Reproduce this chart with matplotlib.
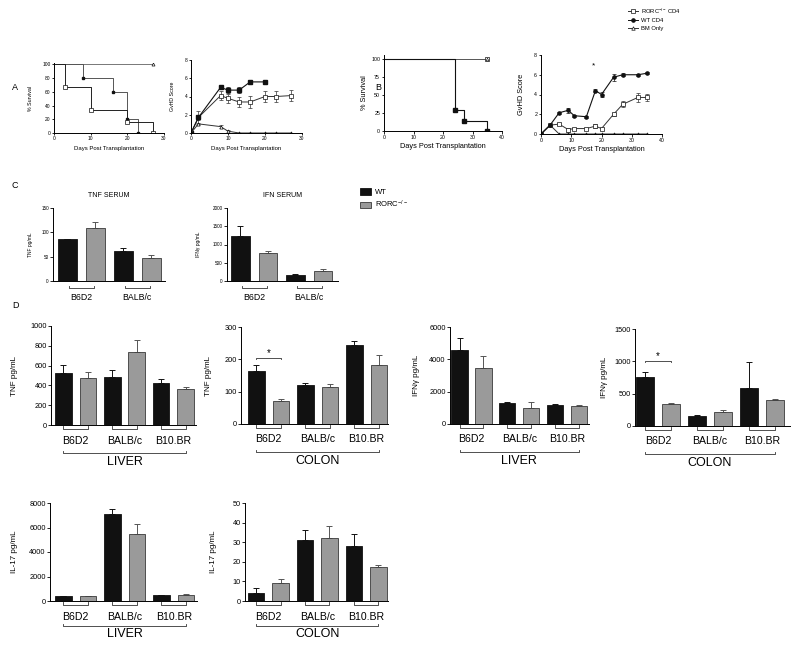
import numpy as np
import matplotlib.pyplot as plt
from matplotlib.transforms import blended_transform_factory
from matplotlib.patches import Patch
from matplotlib.lines import Line2D

plt.rcParams['font.family'] = ['Liberation Sans', 'DejaVu Sans']
plt.rcParams['mathtext.fontset'] = 'custom'
plt.rcParams['mathtext.rm'] = 'Liberation Sans'
plt.rcParams['mathtext.it'] = 'Liberation Sans'

W, H = 800, 649
fig = plt.figure(figsize=(8, 6.49), dpi=100)

# ---------------- data ----------------
# panel A survival
a_wt_days = [0, 8, 16, 20, 23]
a_wt_surv = [100, 80, 60, 20, 0]
a_ko_days = [0, 3, 10, 20, 27]
a_ko_surv = [100, 66.7, 33.3, 16.7, 0]
a_bm_days = [0, 27]
a_bm_surv = [100, 100]

# panel A GvHD score
a_ko_x = [0, 2, 8, 10, 13, 16, 20, 23, 27]
a_ko_y = [0, 1.7, 4.1, 3.8, 3.4, 3.4, 4.0, 4.0, 4.1]
a_ko_err = [0, 0.7, 0.5, 0.5, 0.6, 0.7, 0.6, 0.6, 0.6]
a_wt_x = [0, 2, 8, 10, 13, 16, 20]
a_wt_y = [0, 1.7, 5.0, 4.7, 4.7, 5.6, 5.6]
a_wt_err = [0, 0.3, 0.2, 0.3, 0.3, 0.1, 0.1]
a_bm_x = [0, 2, 8, 10, 13, 16, 20, 23, 27]
a_bm_y = [0, 1.0, 0.7, 0.2, 0, 0, 0, 0, 0]
a_bm_err = [0, 0.1, 0.2, 0.15, 0, 0, 0, 0, 0]

# panel B survival
b_wt_days = [0, 24, 27, 35]
b_wt_surv = [100, 28.6, 14.3, 0]
b_ko_days = [0, 35]
b_ko_surv = [100, 100]
b_bm_days = [0, 35]
b_bm_surv = [100, 100]

# panel B GvHD score
b_x = [0, 3, 6, 9, 11, 15, 18, 20, 24, 27, 32, 35]
b_wt_y = [0, 0.9, 2.15, 2.4, 1.85, 1.75, 4.4, 4.0, 5.75, 6.0, 6.0, 6.15]
b_wt_err = [0, 0.1, 0.1, 0.25, 0.1, 0.1, 0.15, 0.3, 0.35, 0.15, 0.1, 0.1]
b_ko_y = [0, 0.9, 1.0, 0.45, 0.55, 0.55, 0.8, 0.55, 2.0, 3.0, 3.7, 3.7]
b_ko_err = [0, 0.1, 0.1, 0.2, 0.1, 0.1, 0.2, 0.1, 0.15, 0.3, 0.5, 0.35]
b_bm_y = [0, 0.9, 0, 0, 0, 0, 0, 0, 0, 0, 0, 0]

# panel C serum
c_groups = ['B6D2', 'BALB/c']
c_tnf_wt = [86, 61]
c_tnf_wt_err = [1, 6]
c_tnf_ko = [108, 47]
c_tnf_ko_err = [14, 7]
c_ifn_wt = [1240, 170]
c_ifn_wt_err = [270, 20]
c_ifn_ko = [760, 285]
c_ifn_ko_err = [70, 45]

# panel D tissues
d_groups = ['B6D2', 'BALB/c', 'B10.BR']
tnf_liver_wt = [530, 480, 420]
tnf_liver_wt_err = [80, 80, 40]
tnf_liver_ko = [470, 740, 365]
tnf_liver_ko_err = [70, 120, 20]
tnf_colon_wt = [163, 120, 243]
tnf_colon_wt_err = [18, 8, 15]
tnf_colon_ko = [70, 115, 181]
tnf_colon_ko_err = [7, 10, 32]
ifn_liver_wt = [4550, 1320, 1180]
ifn_liver_wt_err = [750, 70, 40]
ifn_liver_ko = [3480, 1000, 1120]
ifn_liver_ko_err = [720, 330, 40]
ifn_colon_wt = [755, 160, 595]
ifn_colon_wt_err = [85, 5, 400]
ifn_colon_ko = [335, 210, 400]
ifn_colon_ko_err = [25, 30, 20]
il17_liver_wt = [380, 7100, 500]
il17_liver_wt_err = [30, 450, 20]
il17_liver_ko = [380, 5430, 520]
il17_liver_ko_err = [30, 870, 20]
il17_colon_wt = [4.3, 31.3, 28]
il17_colon_wt_err = [2.5, 4.7, 6]
il17_colon_ko = [9.2, 32.3, 17.5]
il17_colon_ko_err = [2.2, 6.2, 0.8]

BLACK = '#111111'
GREY = '#9a9a9a'


def add_ax(l, t, r, b):
    return fig.add_axes([l / W, 1 - b / H, (r - l) / W, (b - t) / H])


def style(ax, fs, tl=2):
    for s in ['top', 'right']:
        ax.spines[s].set_visible(False)
    for s in ['left', 'bottom']:
        ax.spines[s].set_linewidth(0.7)
    ax.tick_params(direction='out', length=tl, width=0.6, labelsize=fs, pad=1)


def ylab(ax, text, px, l, r, fs):
    ax.set_ylabel(text, fontsize=fs)
    ax.yaxis.set_label_coords((px - l) / (r - l), 0.5)


def bracket(ax, x0, x1, ypx, t=2.5, lw=0.6):
    tr = blended_transform_factory(ax.transData, fig.transFigure)
    y = 1 - ypx / H
    ax.plot([x0, x0, x1, x1], [y + t / H, y, y, y + t / H], transform=tr,
            color='#333333', lw=lw, clip_on=False)


def label_at(ax, x, ypx, text, fs):
    tr = blended_transform_factory(ax.transData, fig.transFigure)
    ax.text(x, 1 - ypx / H, text, transform=tr, ha='center', va='center', fontsize=fs)


def bars(box, wt, wt_err, ko, ko_err, groups, ylim, yticks, xlim, fs, width=0.68):
    l, t, r, b = box
    ax = add_ax(l, t, r, b)
    n = len(wt)
    xs_wt = np.arange(n) * 2
    xs_ko = xs_wt + 1
    ax.bar(xs_wt, wt, width=width, color=BLACK, edgecolor=BLACK, lw=0.6, zorder=2)
    ax.bar(xs_ko, ko, width=width, color=GREY, edgecolor='#3a3a3a', lw=0.6, zorder=2)
    ax.errorbar(xs_wt, wt, yerr=[np.zeros(n), wt_err], fmt='none', ecolor=BLACK,
                elinewidth=0.7, capsize=2.5, capthick=0.7, zorder=1)
    ax.errorbar(xs_ko, ko, yerr=[np.zeros(n), ko_err], fmt='none', ecolor='#555555',
                elinewidth=0.7, capsize=2.5, capthick=0.7, zorder=1)
    ax.set_ylim(*ylim)
    ax.set_yticks(yticks)
    ax.set_xlim(*xlim)
    ax.set_xticks([])
    style(ax, fs)
    return ax


# ---------------- panel A ----------------
fig.text(12 / W, 1 - 87 / H, 'A', fontsize=6.5, va='center')

ax = add_ax(54, 63, 164, 133)
ax.step(a_bm_days, a_bm_surv, where='post', color='#777777', lw=0.7)
ax.step(a_wt_days, a_wt_surv, where='post', color='#555555', lw=0.7)
ax.step(a_ko_days, a_ko_surv, where='post', color='#222222', lw=0.7)
ax.plot(a_wt_days[1:], a_wt_surv[1:], 's', color=BLACK, ms=2)
ax.plot(a_ko_days[1:], a_ko_surv[1:], 's', mfc='white', mec=BLACK, mew=0.5, ms=2.2)
ax.plot(a_bm_days[1:], a_bm_surv[1:], '^', mfc='white', mec=BLACK, mew=0.5, ms=2.2)
ax.set_xlim(0, 30)
ax.set_ylim(0, 102)
ax.set_xticks([0, 10, 20, 30])
ax.set_yticks([0, 20, 40, 60, 80, 100])
style(ax, 3.5, 1.5)
ax.set_xlabel('Days Post Transplantation', fontsize=4.3, labelpad=3)
ylab(ax, '% Survival', 33, 54, 164, 3.8)

ax = add_ax(191, 60, 302, 133)
ax.errorbar(a_ko_x, a_ko_y, yerr=a_ko_err, color='#333333', lw=0.7, marker='s', ms=2.3,
            mfc='white', mec=BLACK, mew=0.5, elinewidth=0.5, capsize=1.5, capthick=0.5)
ax.errorbar(a_wt_x, a_wt_y, yerr=a_wt_err, color=BLACK, lw=0.8, marker='s', ms=2.3,
            mfc=BLACK, mec=BLACK, elinewidth=0.5, capsize=1.5, capthick=0.5)
ax.errorbar(a_bm_x, a_bm_y, yerr=a_bm_err, color='#333333', lw=0.7, marker='^', ms=2.3,
            mfc='white', mec=BLACK, mew=0.5, elinewidth=0.5, capsize=1.5, capthick=0.5)
ax.set_xlim(0, 30)
ax.set_ylim(0, 8)
ax.set_xticks([0, 10, 20, 30])
ax.set_yticks([0, 2, 4, 6, 8])
style(ax, 3.5, 1.5)
ax.set_xlabel('Days Post Transplantation', fontsize=4.3, labelpad=3)
ylab(ax, 'GvHD Score', 175, 191, 302, 3.8)

# ---------------- panel B ----------------
fig.text(375 / W, 1 - 87 / H, 'B', fontsize=6.5, va='center')

ax = add_ax(384, 55, 502, 131)
ax.step(b_bm_days, b_bm_surv, where='post', color='#555555', lw=0.7)
ax.step(b_wt_days, b_wt_surv, where='post', color=BLACK, lw=0.8)
ax.plot(b_wt_days[1:], b_wt_surv[1:], 's', color=BLACK, ms=2.3)
ax.plot(b_ko_days[1:], b_ko_surv[1:], 's', mfc='white', mec=BLACK, mew=0.5, ms=2.6)
ax.plot(b_bm_days[1:], b_bm_surv[1:], '^', mfc='none', mec=BLACK, mew=0.4, ms=2.0)
ax.set_xlim(0, 40)
ax.set_ylim(0, 105)
ax.set_xticks([0, 10, 20, 30, 40])
ax.set_yticks([0, 25, 50, 75, 100])
style(ax, 3.8, 1.8)
ax.set_xlabel('Days Post Transplantation', fontsize=5.3, labelpad=2)
ylab(ax, '% Survival', 368, 384, 502, 5.3)

ax = add_ax(541, 55, 662, 134)
ax.errorbar(b_x, b_ko_y, yerr=b_ko_err, color='#333333', lw=0.7, marker='s', ms=2.6,
            mfc='white', mec=BLACK, mew=0.5, elinewidth=0.5, capsize=1.5, capthick=0.5)
ax.errorbar(b_x, b_wt_y, yerr=b_wt_err, color=BLACK, lw=0.8, marker='o', ms=2.3,
            mfc=BLACK, mec=BLACK, elinewidth=0.5, capsize=1.5, capthick=0.5)
ax.plot(b_x, b_bm_y, color='#333333', lw=0.7, marker='^', ms=2.3,
        mfc='white', mec=BLACK, mew=0.5)
ax.text(17.5, 6.9, '*', fontsize=6, ha='center', va='center')
ax.set_xlim(0, 40)
ax.set_ylim(0, 8)
ax.set_xticks([0, 10, 20, 30, 40])
ax.set_yticks([0, 2, 4, 6, 8])
style(ax, 3.8, 1.8)
ax.set_xlabel('Days Post Transplantation', fontsize=5.3, labelpad=2)
ylab(ax, 'GvHD Score', 525, 541, 662, 5.3)

top_handles = [
    Line2D([], [], color='#333333', lw=0.7, marker='s', ms=2.5, mfc='white', mec=BLACK, mew=0.5),
    Line2D([], [], color=BLACK, lw=0.7, marker='o', ms=2.3, mfc=BLACK, mec=BLACK),
    Line2D([], [], color='#333333', lw=0.7, marker='^', ms=2.5, mfc='white', mec=BLACK, mew=0.5),
]
fig.legend(top_handles, ['RORC$^{-/-}$ CD4', 'WT CD4', 'BM Only'],
           loc='upper left', bbox_to_anchor=(626 / W, 1 - 4 / H), frameon=False,
           fontsize=4.2, handlelength=1.6, labelspacing=0.45, handletextpad=0.6,
           borderaxespad=0)

# ---------------- panel C ----------------
fig.text(12 / W, 1 - 186 / H, 'C', fontsize=6.5, va='center')

box = (53, 208, 165, 281)
ax = bars(box, c_tnf_wt, c_tnf_wt_err, c_tnf_ko, c_tnf_ko_err, c_groups,
          (0, 150), [0, 50, 100, 150], (-0.52, 3.5), 3.3)
ax.set_title('TNF SERUM', fontsize=5, pad=8)
ylab(ax, 'TNF pg/mL', 33, 53, 165, 3.5)
for i, g in enumerate(c_groups):
    bracket(ax, 2 * i + 0.05, 2 * i + 0.95, 288, 2)
    label_at(ax, 2 * i + 0.5, 298, g, 6.3)

box = (227, 208, 338, 281)
ax = bars(box, c_ifn_wt, c_ifn_wt_err, c_ifn_ko, c_ifn_ko_err, c_groups,
          (0, 2000), [0, 500, 1000, 1500, 2000], (-0.49, 3.55), 3.3)
ax.set_title('IFN SERUM', fontsize=5, pad=8)
ylab(ax, 'IFN\u03b3 pg/mL', 201, 227, 338, 3.5)
for i, g in enumerate(c_groups):
    bracket(ax, 2 * i + 0.05, 2 * i + 0.95, 288, 2)
    label_at(ax, 2 * i + 0.5, 298, g, 6.3)

fig.legend([Patch(facecolor=BLACK, edgecolor=BLACK, lw=0.6),
            Patch(facecolor=GREY, edgecolor='#3a3a3a', lw=0.6)],
           ['WT', 'RORC$^{-/-}$'], loc='upper left',
           bbox_to_anchor=(357 / W, 1 - 185 / H), frameon=False, fontsize=5.5,
           handlelength=1.4, handleheight=1.0, labelspacing=0.35, handletextpad=0.5,
           borderaxespad=0)

# ---------------- panel D ----------------
fig.text(12 / W, 1 - 305 / H, 'D', fontsize=6.5, va='center')

d_panels = [
    ((51, 326, 196, 425), tnf_liver_wt, tnf_liver_wt_err, tnf_liver_ko, tnf_liver_ko_err,
     (0, 1000), [0, 200, 400, 600, 800, 1000], (-0.51, 5.43), 'TNF pg/mL', 18, 'LIVER', None),
    ((241, 327, 388, 424), tnf_colon_wt, tnf_colon_wt_err, tnf_colon_ko, tnf_colon_ko_err,
     (0, 300), [0, 100, 200, 300], (-0.63, 5.37), 'TNF pg/mL', 212, 'COLON', 204),
    ((450, 327, 589, 424), ifn_liver_wt, ifn_liver_wt_err, ifn_liver_ko, ifn_liver_ko_err,
     (0, 6000), [0, 2000, 4000, 6000], (-0.4, 5.42), 'IFN\u03b3 pg/mL', 420, 'LIVER', None),
    ((635, 329, 790, 426), ifn_colon_wt, ifn_colon_wt_err, ifn_colon_ko, ifn_colon_ko_err,
     (0, 1500), [0, 500, 1000, 1500], (-0.38, 5.58), 'IFN\u03b3 pg/mL', 608, 'COLON', 1005),
    ((50, 503, 197, 601), il17_liver_wt, il17_liver_wt_err, il17_liver_ko, il17_liver_ko_err,
     (0, 8000), [0, 2000, 4000, 6000, 8000], (-0.55, 5.45), 'IL-17 pg/mL', 18, 'LIVER', None),
    ((245, 503, 388, 601), il17_colon_wt, il17_colon_wt_err, il17_colon_ko, il17_colon_ko_err,
     (0, 50), [0, 10, 20, 30, 40, 50], (-0.45, 5.39), 'IL-17 pg/mL', 217, 'COLON', None),
]

for box, wt, wte, ko, koe, ylim, yt, xlim, yl, ylx, tissue, star in d_panels:
    l, t, r, b = box
    ax = bars(box, wt, wte, ko, koe, d_groups, ylim, yt, xlim, 5.3)
    ylab(ax, yl, ylx, l, r, 5.8)
    for i, g in enumerate(d_groups):
        bracket(ax, 2 * i, 2 * i + 1, b + 3.5)
        label_at(ax, 2 * i + 0.5, b + 15.5, g, 7.6)
    if b > 500:
        bracket(ax, 0, 5, b + 25)
        label_at(ax, 2.5, b + 33, tissue, 9)
    else:
        bracket(ax, 0, 5, b + 28)
        label_at(ax, 2.5, b + 37, tissue, 9)
    if star is not None:
        d = (ylim[1] - ylim[0]) * 0.015
        ax.plot([0, 0, 1, 1], [star - d, star, star, star - d], color='#333333', lw=0.6)
        ax.text(0.5, star + (ylim[1] - ylim[0]) * 0.05, '*', ha='center', va='center',
                fontsize=7)

fig.savefig('out.png', dpi=100)
